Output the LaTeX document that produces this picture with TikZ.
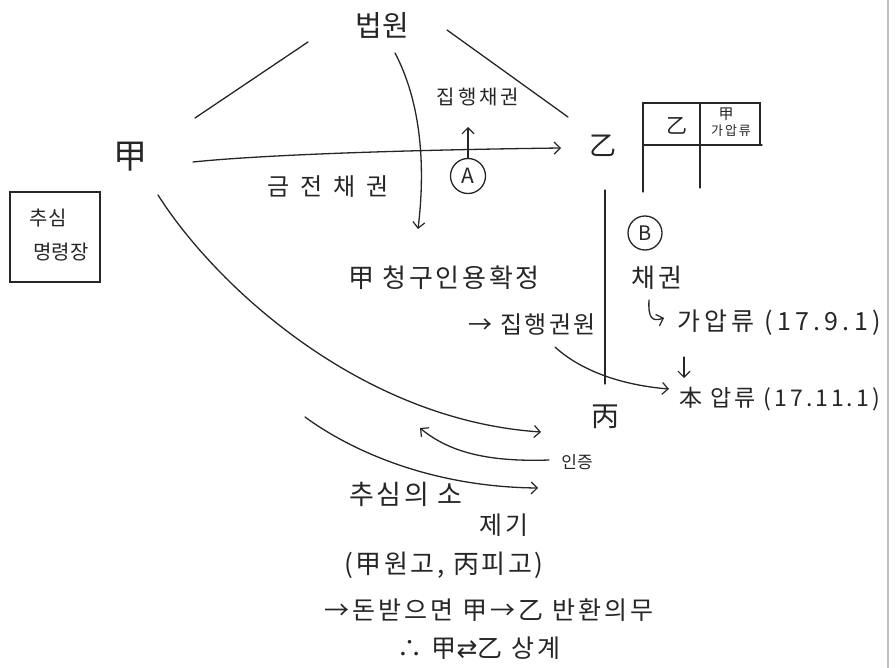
\documentclass[tikz,border=0pt]{standalone}
\usepackage{fontspec}
\setmainfont{Noto Sans CJK KR}
\newfontfamily\symfont{DejaVu Sans}
\usetikzlibrary{arrows.meta}
\tikzset{
  ink/.style={draw=black!85, line width=1.3pt, line cap=round},
  arr/.style={ink, -{Straight Barb[length=6pt,width=12pt,line width=1.2pt]}},
  lbl/.style={inner sep=0pt, text=black!85},
  circ/.style={circle, draw=black!85, line width=1.3pt, inner sep=0pt, text=black!85},
  fs/.style={font=\fontsize{#1}{#1}\selectfont},
  fsl/.style n args={2}{font=\addfontfeature{LetterSpace=#2}\fontsize{#1}{#1}\selectfont},
}
\begin{document}
\begin{tikzpicture}[x=1pt,y=-1pt]
\useasboundingbox (0,0) rectangle (896,668);
\fill[white] (0,0) rectangle (896,668);
% scan edge
\draw[black!25, line width=1.5pt] (888,0) -- (888,668);

% labels
\node[lbl, fs=29] (court) at (382,25) {법원};
\node[lbl, fsl={20}{15}] (exec) at (478,97) {집행채권};
\node[lbl, fs=34] (gap) at (130,157) {甲};
\node[lbl, fs=27] (eul) at (603,146) {乙};
\node[lbl, fsl={24}{45}] (money) at (328,187) {금전채권};
\node[circ, minimum size=35pt, font=\fontsize{21}{21}\selectfont] (A) at (468,176) {A};

% table
\coordinate (t1) at (643,103);
\coordinate (t2) at (760,103);
\coordinate (t3) at (643,145);
\coordinate (t4) at (762,145);
\draw[ink] (643,192) -- (t1) -- (t2) -- (760,145);
\draw[ink] (t3) -- (t4);
\draw[ink] (700,103) -- (700,188);
\node[lbl, fs=21] (teul) at (677,126) {乙};
\node[lbl, fs=15] (tgap) at (726,114) {甲};
\node[lbl, fsl={13}{15}] (tga) at (731,131) {가압류};

% order box
\node[draw=black!85, line width=1.3pt, minimum width=90pt, minimum height=90pt, inner sep=0pt] (orderbox) at (55,237) {};
\node[lbl, fs=20] (order1) at (48,218) {추심};
\node[lbl, fs=20] (order2) at (61,252) {명령장};

\node[circ, minimum size=34pt, font=\fontsize{20}{20}\selectfont] (B) at (645,233) {B};
\node[lbl, fsl={26}{10}] (decided) at (444,278) {甲 청구인용확정};
\node[lbl, fsl={26}{10}] (claim) at (657,278) {채권};
\node[lbl, fsl={24}{10}, anchor=east] (title) at (596,324) {→ 집행권원};
\node[lbl, fsl={25}{17}, anchor=west] (pre) at (677,323) {가압류 (17.9.1)};
\node[lbl, fsl={23}{13}, anchor=west] (main) at (679,399) {本 압류 (17.11.1)};
\node[lbl, fs=28] (byeong) at (605,417) {丙};
\node[lbl, fs=17] (cert) at (577,462) {인증};
\node[lbl, fsl={27}{10}, anchor=west] (suit) at (349,494) {추심의 소};
\node[lbl, fsl={25}{14}] (suit2) at (504,525) {제기};
\node[lbl, fsl={26}{10}] (parties) at (444,565) {(甲원고, 丙피고)};
\node[lbl, fsl={25}{12}] (ret) at (489,610) {→돈받으면 甲→乙 반환의무};
\node[lbl, fsl={25}{12}] (setoff) at (479,648) {∴ 甲{\symfont ⇄}乙 상계};

% connectors
\coordinate (l1a) at (195,118);
\coordinate (l1b) at (308,42);
\draw[ink] (l1a) -- (l1b);
\coordinate (r1a) at (447,30);
\coordinate (r1b) at (568,117);
\draw[ink] (r1a) -- (r1b);

\coordinate (ca) at (395,53);
\coordinate (cb) at (418,229);
\draw[arr] (ca) .. controls (425,110) and (424,180) .. (cb);

\coordinate (ga) at (193,162);
\coordinate (eb) at (561,148);
\draw[arr] (ga) .. controls (260,155) and (400,150) .. (eb);

\coordinate (Aup) at (468,127);
\draw[arr] (A.north) -- (Aup);

\coordinate (va) at (605,190);
\coordinate (vb) at (605,384);
\draw[ink] (va) -- (vb);

\coordinate (g2) at (158,195);
\coordinate (b2) at (541,432);
\draw[arr] (g2) .. controls (215,285) and (360,420) .. (b2);

\coordinate (ce) at (549,460);
\coordinate (cf) at (420,428);
\draw[arr] (ce) .. controls (490,462) and (450,453) .. (cf);

\coordinate (sa) at (305,417);
\coordinate (sb) at (538,488);
\draw[arr] (sa) .. controls (350,450) and (430,487) .. (sb);

\coordinate (ta) at (555,347);
\coordinate (tb) at (669,389);
\draw[arr] (ta) .. controls (580,370) and (620,385) .. (tb);

\coordinate (ha) at (649,300);
\coordinate (hb) at (664,318);
\draw[arr] (ha) .. controls (648,318) and (652,322) .. (hb);

\coordinate (da) at (684,357);
\coordinate (db) at (684,378);
\draw[arr] (da) -- (db);
\end{tikzpicture}
\end{document}
